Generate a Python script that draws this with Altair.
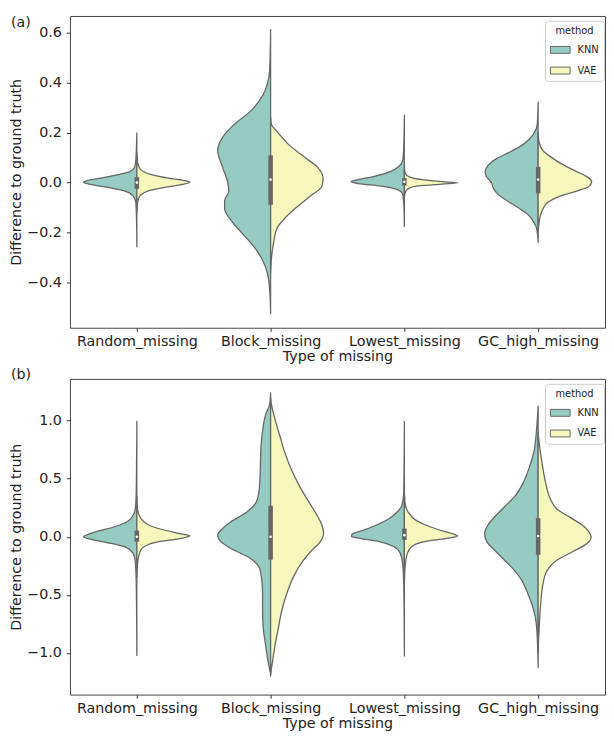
import json
import altair as alt
import pandas as pd

CATEGORIES = ["Random_missing", "Block_missing", "Lowest_missing", "GC_high_missing"]
METHODS = ["KNN", "VAE"]
COLORS = ["#95cbc2", "#f6f6bd"]
LINE = "#666666"
TEXT = "#222222"
FONT = "DejaVu Sans"

# ---- violin half profiles: (value, relative half width 0..1)
# panel (a)
A_RANDOM_KNN = [(0.199, 0), (0.15, 0.006), (0.089, 0.02), (0.063, 0.04), (0.044, 0.13), (0.031, 0.37),
                (0.018, 0.67), (0.009, 0.91), (0.001, 1.0), (-0.008, 0.85), (-0.021, 0.49), (-0.034, 0.22),
                (-0.053, 0.07), (-0.079, 0.02), (-0.15, 0.006), (-0.257, 0)]
A_RANDOM_VAE = [(0.12, 0), (0.076, 0.02), (0.050, 0.08), (0.031, 0.29), (0.018, 0.59), (0.008, 0.89),
                (0.001, 0.99), (-0.008, 0.83), (-0.021, 0.47), (-0.034, 0.20), (-0.053, 0.06),
                (-0.072, 0.02), (-0.12, 0)]
A_BLOCK_KNN = [(0.612, 0), (0.451, 0.018), (0.348, 0.15), (0.283, 0.39), (0.231, 0.69), (0.180, 0.90),
               (0.128, 0.99), (0.063, 0.90), (0.0, 0.80), (-0.034, 0.78), (-0.072, 0.86), (-0.105, 0.86),
               (-0.156, 0.72), (-0.208, 0.51), (-0.260, 0.30), (-0.311, 0.15), (-0.363, 0.06),
               (-0.428, 0.018), (-0.525, 0)]
A_BLOCK_VAE = [(0.26, 0), (0.231, 0.018), (0.205, 0.12), (0.154, 0.33), (0.102, 0.63), (0.063, 0.87),
               (0.018, 0.98), (-0.014, 0.96), (-0.053, 0.75), (-0.105, 0.45), (-0.156, 0.21),
               (-0.182, 0.12), (-0.234, 0.06), (-0.298, 0.018), (-0.363, 0)]
A_LOWEST_KNN = [(0.270, 0), (0.141, 0.012), (0.089, 0.03), (0.063, 0.11), (0.044, 0.26), (0.025, 0.56),
                (0.012, 0.86), (0.003, 1.0), (-0.004, 0.86), (-0.014, 0.44), (-0.027, 0.14),
                (-0.047, 0.03), (-0.10, 0.008), (-0.176, 0)]
A_LOWEST_VAE = [(0.06, 0), (0.037, 0.018), (0.022, 0.10), (0.012, 0.34), (0.004, 0.70), (-0.001, 1.0),
                (-0.006, 0.70), (-0.014, 0.22), (-0.027, 0.054), (-0.040, 0.018), (-0.06, 0)]
A_GC_KNN = [(0.322, 0), (0.231, 0.018), (0.193, 0.09), (0.154, 0.27), (0.121, 0.54), (0.096, 0.78),
            (0.070, 0.93), (0.044, 0.99), (0.025, 0.97), (-0.001, 0.87), (-0.021, 0.84), (-0.040, 0.78),
            (-0.066, 0.63), (-0.098, 0.39), (-0.130, 0.18), (-0.156, 0.09), (-0.182, 0.03), (-0.240, 0)]
A_GC_VAE = [(0.20, 0), (0.167, 0.012), (0.128, 0.09), (0.102, 0.24), (0.070, 0.48), (0.044, 0.72),
            (0.025, 0.90), (0.005, 1.0), (-0.014, 0.96), (-0.034, 0.72), (-0.053, 0.42), (-0.079, 0.18),
            (-0.105, 0.09), (-0.137, 0.036), (-0.169, 0.012), (-0.20, 0)]

# panel (b)
B_RANDOM_KNN = [(0.994, 0), (0.70, 0.004), (0.380, 0.012), (0.239, 0.03), (0.183, 0.072), (0.127, 0.19),
                (0.084, 0.43), (0.048, 0.73), (0.020, 0.91), (0.0, 1.0), (-0.023, 0.85), (-0.056, 0.49),
                (-0.093, 0.19), (-0.141, 0.072), (-0.211, 0.03), (-0.380, 0.012), (-0.70, 0.004),
                (-1.022, 0)]
B_RANDOM_VAE = [(0.35, 0), (0.239, 0.012), (0.155, 0.078), (0.099, 0.23), (0.056, 0.53), (0.028, 0.80),
                (0.008, 0.99), (-0.014, 0.83), (-0.042, 0.41), (-0.084, 0.14), (-0.127, 0.06),
                (-0.211, 0.018), (-0.35, 0)]
B_BLOCK_KNN = [(1.239, 0), (1.140, 0.018), (1.056, 0.09), (0.915, 0.15), (0.774, 0.18), (0.633, 0.19),
               (0.493, 0.20), (0.380, 0.22), (0.296, 0.27), (0.211, 0.45), (0.127, 0.75), (0.056, 0.93),
               (0.014, 0.99), (-0.042, 0.93), (-0.099, 0.75), (-0.183, 0.39), (-0.267, 0.21),
               (-0.352, 0.17), (-0.493, 0.15), (-0.633, 0.15), (-0.774, 0.14), (-0.915, 0.10),
               (-1.056, 0.054), (-1.182, 0)]
B_BLOCK_VAE = [(1.20, 0), (1.168, 0.006), (0.999, 0.09), (0.859, 0.18), (0.718, 0.27), (0.577, 0.39),
               (0.436, 0.54), (0.296, 0.72), (0.183, 0.87), (0.099, 0.96), (0.028, 0.99), (-0.042, 0.93),
               (-0.127, 0.75), (-0.211, 0.60), (-0.352, 0.42), (-0.493, 0.30), (-0.633, 0.21),
               (-0.774, 0.15), (-0.915, 0.09), (-1.056, 0.042), (-1.168, 0.006), (-1.20, 0)]
B_LOWEST_KNN = [(0.994, 0), (0.70, 0.004), (0.380, 0.012), (0.267, 0.048), (0.211, 0.14), (0.155, 0.29),
                (0.099, 0.53), (0.056, 0.77), (0.020, 0.98), (0.003, 0.99), (-0.014, 0.83),
                (-0.042, 0.47), (-0.084, 0.20), (-0.141, 0.078), (-0.239, 0.03), (-0.408, 0.012),
                (-0.70, 0.004), (-1.028, 0)]
B_LOWEST_VAE = [(0.40, 0), (0.296, 0.012), (0.211, 0.072), (0.141, 0.22), (0.084, 0.49), (0.048, 0.73),
                (0.020, 0.94), (0.006, 1.0), (-0.014, 0.79), (-0.042, 0.37), (-0.084, 0.14),
                (-0.141, 0.06), (-0.239, 0.018), (-0.40, 0)]
B_GC_KNN = [(1.126, 0), (0.887, 0.036), (0.746, 0.072), (0.605, 0.16), (0.465, 0.28), (0.352, 0.43),
            (0.267, 0.61), (0.183, 0.79), (0.099, 0.94), (0.028, 1.0), (-0.042, 0.96), (-0.127, 0.79),
            (-0.211, 0.61), (-0.296, 0.43), (-0.380, 0.30), (-0.493, 0.19), (-0.605, 0.10),
            (-0.690, 0.054), (-0.802, 0.024), (-1.126, 0)]
B_GC_VAE = [(0.90, 0), (0.746, 0.036), (0.605, 0.084), (0.465, 0.14), (0.324, 0.23), (0.239, 0.35),
            (0.169, 0.59), (0.099, 0.83), (0.042, 0.95), (0.0, 0.99), (-0.056, 0.92), (-0.127, 0.65),
            (-0.211, 0.32), (-0.296, 0.16), (-0.408, 0.09), (-0.577, 0.048), (-0.746, 0.024),
            (-0.915, 0.006), (-1.0, 0)]

# inner box (quartiles and median), per category
A_Q1 = [-0.025, -0.089, -0.012, -0.043]
A_MED = [0.0, 0.012, 0.003, 0.012]
A_Q3 = [0.022, 0.109, 0.018, 0.063]
B_Q1 = [-0.042, -0.197, -0.028, -0.155]
B_MED = [0.0, 0.0, 0.014, 0.006]
B_Q3 = [0.053, 0.267, 0.070, 0.160]

A_YTICKS = [-0.4, -0.2, 0.0, 0.2, 0.4, 0.6]
B_YTICKS = [-1.0, -0.5, 0.0, 0.5, 1.0]
A_DOMAIN = [-0.581, 0.667]
B_DOMAIN = [-1.36, 1.36]

A_HALVES = [[A_RANDOM_KNN, A_RANDOM_VAE], [A_BLOCK_KNN, A_BLOCK_VAE],
            [A_LOWEST_KNN, A_LOWEST_VAE], [A_GC_KNN, A_GC_VAE]]
B_HALVES = [[B_RANDOM_KNN, B_RANDOM_VAE], [B_BLOCK_KNN, B_BLOCK_VAE],
            [B_LOWEST_KNN, B_LOWEST_VAE], [B_GC_KNN, B_GC_VAE]]


def violin_table(halves):
    rows = []
    for ci, pair in enumerate(halves):
        for mi, prof in enumerate(pair):
            for v, d in prof:
                rows.append({"cat": CATEGORIES[ci], "ci": ci, "method": METHODS[mi], "v": v, "d": d})
    return pd.DataFrame(rows)


def box_table(q1, med, q3):
    return pd.DataFrame({"cat": CATEGORIES, "ci": list(range(4)), "q1": q1, "med": med, "q3": q3})


LABEL_EXPR = json.dumps(CATEGORIES) + "[floor(datum.value)]"

W = 544


def panel(halves, q1, med, q3, ydomain, yticks, tag, height, tag_y):
    xaxis = alt.Axis(values=[0.5, 1.5, 2.5, 3.5], labelExpr=LABEL_EXPR, title="Type of missing",
                     grid=False, domain=False, tickSize=3.7, tickColor="#333333", tickWidth=1,
                     labelFontSize=14.5, titleFontSize=14.5, labelFont=FONT, titleFont=FONT,
                     labelColor=TEXT, titleColor=TEXT, titleFontWeight="normal",
                     labelPadding=3, titlePadding=2, labelAngle=0)
    yaxis = alt.Axis(values=yticks, format=".1f", title="Difference to ground truth", grid=False,
                     domain=False, tickSize=3.7, tickColor="#333333", tickWidth=1,
                     labelFontSize=14.5, titleFontSize=14.5, labelFont=FONT, titleFont=FONT,
                     labelColor=TEXT, titleColor=TEXT, titleFontWeight="normal",
                     labelPadding=5, titlePadding=3)
    xscale = alt.Scale(domain=[0, 4], nice=False, zero=False)
    yscale = alt.Scale(domain=ydomain, nice=False, zero=False)

    def X(f):
        return alt.X(f, type="quantitative", scale=xscale, axis=xaxis)

    def Y(f):
        return alt.Y(f, type="quantitative", scale=yscale, axis=yaxis)

    vio = alt.Chart(violin_table(halves)).transform_calculate(
        xc="datum.ci + 0.5",
        xp="datum.ci + 0.5 + (datum.method == 'KNN' ? -1 : 1) * 0.4 * datum.d",
    ).mark_area(orient="horizontal", interpolate="monotone", stroke=LINE, strokeWidth=1.3,
                opacity=1, fillOpacity=1, strokeJoin="round").encode(
        y=Y("v"), x=X("xp"), x2="xc:Q",
        color=alt.Color("method:N", scale=alt.Scale(domain=METHODS, range=COLORS),
                        legend=alt.Legend(orient="none", legendX=W - 61, legendY=5, title="method",
                                          titleFontSize=10, labelFontSize=10, titleFont=FONT,
                                          labelFont=FONT, titleFontWeight="normal",
                                          titleAnchor="middle", titleColor=TEXT, labelColor=TEXT,
                                          symbolType="M-1,-0.35H1V0.35H-1Z", symbolSize=400,
                                          symbolStrokeColor=LINE, symbolStrokeWidth=1,
                                          symbolOpacity=1, fillColor="white", strokeColor="#cccccc",
                                          padding=5, cornerRadius=3, labelOffset=7, rowPadding=5,
                                          titlePadding=4)),
        detail="cat:N",
    )

    bt = box_table(q1, med, q3)
    box = alt.Chart(bt).transform_calculate(xc="datum.ci + 0.5").mark_rule(
        strokeWidth=4.6, color=LINE).encode(x=X("xc"), y=Y("q1"), y2="q3:Q")
    mid = alt.Chart(bt).transform_calculate(xc="datum.ci + 0.5").mark_point(
        shape="circle", filled=True, size=7, color="white", opacity=1).encode(x=X("xc"), y=Y("med"))

    lab = alt.Chart(pd.DataFrame({"t": [tag]})).mark_text(
        align="left", baseline="top", fontSize=14.5, font=FONT, color=TEXT).encode(
        text="t:N", x=alt.value(-60), y=alt.value(tag_y))

    return alt.layer(vio, box, mid, lab).properties(width=W, height=height)


pa = panel(A_HALVES, A_Q1, A_MED, A_Q3, A_DOMAIN, A_YTICKS, "(a)", 317, 0)
pb = panel(B_HALVES, B_Q1, B_MED, B_Q3, B_DOMAIN, B_YTICKS, "(b)", 321, -11)

chart = alt.vconcat(pa, pb, spacing=2).resolve_scale(color="independent").properties(
    padding=0).configure_view(stroke="#444444", strokeWidth=1)

chart.save("out.html", embed_options={"renderer": "svg", "actions": False})
